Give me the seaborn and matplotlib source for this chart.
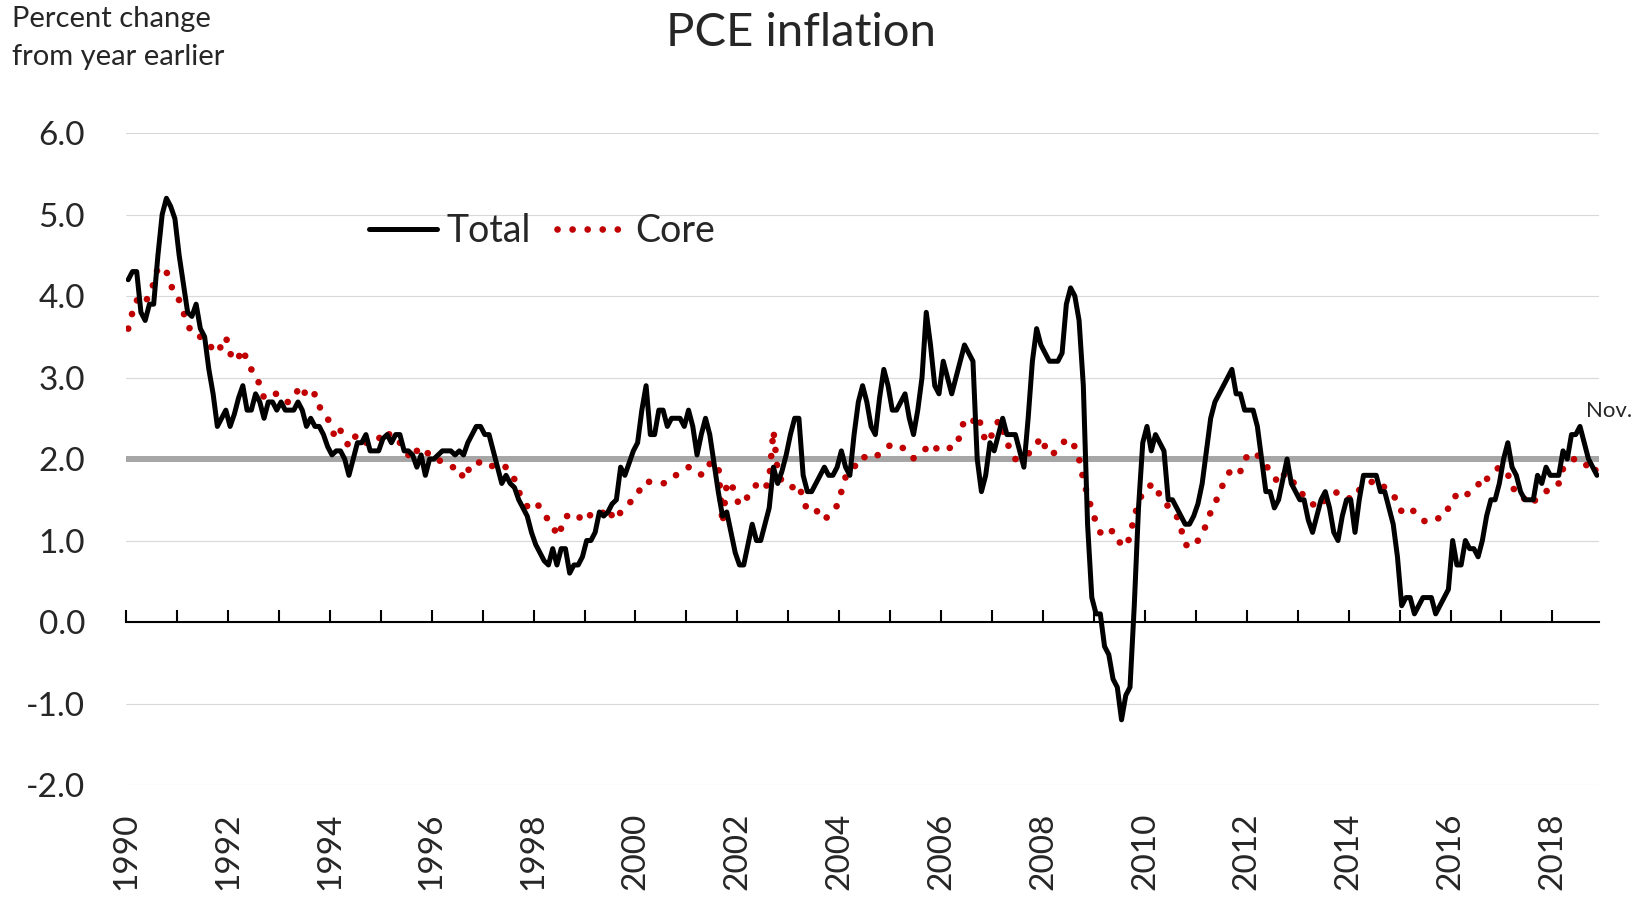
import numpy as np
import pandas as pd
import seaborn as sns
import matplotlib.pyplot as plt

# PCE inflation, percent change from year earlier, Jan 1990 - Nov 2018 (monthly)
total_pce = [
    4.2, 4.3, 4.3, 3.8, 3.7, 3.9, 3.9, 4.5, 5.0, 5.2, 5.1, 4.95,      # 1990
    4.5, 4.15, 3.8, 3.75, 3.9, 3.6, 3.5, 3.1, 2.8, 2.4, 2.5, 2.6,     # 1991
    2.4, 2.55, 2.75, 2.9, 2.6, 2.6, 2.8, 2.7, 2.5, 2.7, 2.7, 2.6,     # 1992
    2.7, 2.6, 2.6, 2.6, 2.7, 2.6, 2.4, 2.5, 2.4, 2.4, 2.3, 2.15,      # 1993
    2.05, 2.1, 2.1, 2.0, 1.8, 2.0, 2.2, 2.2, 2.3, 2.1, 2.1, 2.1,      # 1994
    2.25, 2.3, 2.2, 2.3, 2.3, 2.1, 2.1, 2.05, 1.9, 2.05, 1.8, 2.0,    # 1995
    2.0, 2.05, 2.1, 2.1, 2.1, 2.05, 2.1, 2.05, 2.2, 2.3, 2.4, 2.4,    # 1996
    2.3, 2.3, 2.1, 1.9, 1.7, 1.8, 1.7, 1.65, 1.5, 1.4, 1.3, 1.1,      # 1997
    0.95, 0.85, 0.75, 0.7, 0.9, 0.7, 0.9, 0.9, 0.6, 0.7, 0.7, 0.8,    # 1998
    1.0, 1.0, 1.1, 1.35, 1.3, 1.35, 1.45, 1.5, 1.9, 1.8, 1.95, 2.1,   # 1999
    2.2, 2.6, 2.9, 2.3, 2.3, 2.6, 2.6, 2.4, 2.5, 2.5, 2.5, 2.4,       # 2000
    2.6, 2.4, 2.05, 2.3, 2.5, 2.3, 1.95, 1.6, 1.3, 1.35, 1.1, 0.85,   # 2001
    0.7, 0.7, 0.95, 1.2, 1.0, 1.0, 1.2, 1.4, 1.9, 1.7, 1.85, 2.05,    # 2002
    2.3, 2.5, 2.5, 1.8, 1.6, 1.6, 1.7, 1.8, 1.9, 1.8, 1.8, 1.9,       # 2003
    2.1, 1.9, 1.8, 2.3, 2.7, 2.9, 2.7, 2.4, 2.3, 2.75, 3.1, 2.9,      # 2004
    2.6, 2.6, 2.7, 2.8, 2.5, 2.3, 2.6, 3.0, 3.8, 3.4, 2.9, 2.8,       # 2005
    3.2, 3.0, 2.8, 3.0, 3.2, 3.4, 3.3, 3.2, 2.0, 1.6, 1.8, 2.2,       # 2006
    2.1, 2.3, 2.5, 2.3, 2.3, 2.3, 2.1, 1.9, 2.5, 3.2, 3.6, 3.4,       # 2007
    3.3, 3.2, 3.2, 3.2, 3.3, 3.9, 4.1, 4.0, 3.7, 2.9, 1.2, 0.3,       # 2008
    0.1, 0.1, -0.3, -0.4, -0.7, -0.8, -1.2, -0.9, -0.8, 0.2, 1.4, 2.2,  # 2009
    2.4, 2.1, 2.3, 2.2, 2.1, 1.5, 1.5, 1.4, 1.3, 1.2, 1.2, 1.3,       # 2010
    1.45, 1.7, 2.1, 2.5, 2.7, 2.8, 2.9, 3.0, 3.1, 2.8, 2.8, 2.6,      # 2011
    2.6, 2.6, 2.4, 2.0, 1.6, 1.6, 1.4, 1.5, 1.75, 2.0, 1.7, 1.6,      # 2012
    1.5, 1.5, 1.25, 1.1, 1.3, 1.5, 1.6, 1.4, 1.1, 1.0, 1.3, 1.5,      # 2013
    1.5, 1.1, 1.5, 1.8, 1.8, 1.8, 1.8, 1.6, 1.6, 1.4, 1.2, 0.8,       # 2014
    0.2, 0.3, 0.3, 0.1, 0.2, 0.3, 0.3, 0.3, 0.1, 0.2, 0.3, 0.4,       # 2015
    1.0, 0.7, 0.7, 1.0, 0.9, 0.9, 0.8, 1.0, 1.3, 1.5, 1.5, 1.7,       # 2016
    2.0, 2.2, 1.9, 1.8, 1.6, 1.5, 1.5, 1.5, 1.8, 1.7, 1.9, 1.8,       # 2017
    1.8, 1.8, 2.1, 2.0, 2.3, 2.3, 2.4, 2.2, 2.0, 1.9, 1.8,            # 2018
]

core_pce = [
    3.6, 3.8, 3.95, 3.9, 3.9, 4.05, 4.15, 4.35, 4.35, 4.3, 4.15, 4.0,         # 1990
    3.95, 3.8, 3.65, 3.55, 3.5, 3.5, 3.45, 3.4, 3.35, 3.3, 3.4, 3.5,          # 1991
    3.3, 3.2, 3.25, 3.35, 3.2, 3.1, 3.05, 2.9, 2.75, 2.8, 2.8, 2.8,           # 1992
    2.75, 2.7, 2.7, 2.75, 2.85, 2.9, 2.75, 2.75, 2.8, 2.65, 2.55, 2.5,        # 1993
    2.35, 2.25, 2.35, 2.25, 2.15, 2.25, 2.3, 2.25, 2.2, 2.2, 2.25, 2.25,      # 1994
    2.3, 2.35, 2.25, 2.2, 2.2, 2.1, 2.05, 2.15, 2.1, 2.15, 2.1, 2.05,         # 1995
    2.0, 2.0, 1.95, 1.92, 1.9, 1.9, 1.9, 1.75, 1.85, 1.95, 1.97, 1.95,        # 1996
    1.9, 1.9, 1.92, 1.95, 1.92, 1.9, 1.85, 1.75, 1.6, 1.5, 1.42, 1.45,       # 1997
    1.48, 1.4, 1.32, 1.25, 1.2, 1.05, 1.15, 1.3, 1.3, 1.27, 1.25, 1.35,       # 1998
    1.35, 1.3, 1.28, 1.3, 1.35, 1.4, 1.3, 1.25, 1.35, 1.4, 1.46, 1.5,         # 1999
    1.55, 1.7, 1.72, 1.72, 1.7, 1.7, 1.7, 1.72, 1.78, 1.8, 1.84, 1.86,        # 2000
    1.9, 1.88, 1.82, 1.81, 1.82, 1.94, 1.94, 1.94, 1.2, 1.7, 1.72, 1.55,      # 2001
    1.43, 1.48, 1.54, 1.6, 1.69, 1.66, 1.63, 1.75, 2.35, 1.85, 1.72, 1.68,    # 2002
    1.65, 1.66, 1.69, 1.5, 1.37, 1.37, 1.38, 1.3, 1.25, 1.31, 1.36, 1.43,     # 2003
    1.6, 1.78, 1.85, 1.9, 1.97, 2.04, 2.0, 2.0, 2.02, 2.07, 2.1, 2.15,        # 2004
    2.19, 2.17, 2.15, 2.12, 2.08, 2.01, 2.05, 2.09, 2.13, 2.19, 2.15, 2.1,    # 2005
    2.1, 2.12, 2.15, 2.15, 2.3, 2.49, 2.48, 2.46, 2.54, 2.4, 2.2, 2.27,       # 2006
    2.32, 2.48, 2.35, 2.2, 2.1, 2.0, 2.0, 2.03, 2.06, 2.12, 2.18, 2.27,       # 2007
    2.15, 2.05, 2.07, 2.12, 2.18, 2.25, 2.22, 2.15, 2.0, 1.75, 1.55, 1.38,    # 2008
    1.22, 1.1, 1.05, 1.1, 1.12, 1.0, 0.96, 0.92, 1.05, 1.3, 1.45, 1.6,        # 2009
    1.65, 1.68, 1.69, 1.55, 1.47, 1.42, 1.35, 1.3, 1.15, 0.95, 0.93, 0.92,    # 2010
    1.0, 1.08, 1.2, 1.35, 1.45, 1.58, 1.7, 1.8, 1.89, 1.85, 1.85, 2.0,        # 2011
    2.05, 2.09, 2.05, 1.98, 1.92, 1.86, 1.78, 1.7, 1.8, 1.82, 1.79, 1.64,     # 2012
    1.6, 1.55, 1.52, 1.45, 1.4, 1.45, 1.5, 1.53, 1.57, 1.6, 1.58, 1.55,       # 2013
    1.5, 1.55, 1.62, 1.65, 1.7, 1.72, 1.74, 1.7, 1.65, 1.6, 1.55, 1.49,       # 2014
    1.35, 1.38, 1.4, 1.35, 1.3, 1.25, 1.22, 1.24, 1.26, 1.28, 1.29, 1.4,      # 2015
    1.45, 1.59, 1.58, 1.56, 1.58, 1.62, 1.68, 1.79, 1.75, 1.82, 1.86, 1.9,    # 2016
    1.88, 1.82, 1.64, 1.62, 1.6, 1.5, 1.44, 1.48, 1.51, 1.55, 1.6, 1.65,      # 2017
    1.7, 1.7, 1.88, 1.94, 1.98, 2.01, 2.0, 1.95, 1.9, 1.94, 1.82,             # 2018
]

year_labels = [str(y) for y in range(1990, 2019, 2)]
ytick_values = [-2, -1, 0, 1, 2, 3, 4, 5, 6]

# Monthly dates -> category positions (one slot per month, like the Excel category axis)
months = pd.date_range("1990-01-01", periods=len(total_pce), freq="MS")
df = pd.DataFrame({"date": months, "Total": total_pce, "Core": core_pce})
df["pos"] = np.arange(len(df)) + 0.5
n_months = len(df)

sns.set_theme(style="white")
plt.rcParams["font.family"] = ["Lato", "DejaVu Sans"]

fig = plt.figure(figsize=(16.46, 9.02), dpi=100)
ax = fig.add_axes([0.0766, 0.1297, 0.8949, 0.7228])

# 2 percent reference line
ax.axhline(2, color="#a6a6a6", linewidth=4.3, zorder=1.5)

sns.lineplot(data=df, x="pos", y="Total", ax=ax, color="black", linewidth=3.6,
             label="Total", zorder=3)
sns.lineplot(data=df, x="pos", y="Core", ax=ax, color="#c00000", linewidth=4.8,
             linestyle=(0, (0.01, 2.25)), dash_capstyle="round", label="Core", zorder=2.5)

ax.set_xlim(0, n_months)
ax.set_ylim(-2, 6)
ax.set_xlabel("")
ax.set_ylabel("")

# y axis
ax.set_yticks(ytick_values)
ax.set_yticklabels([f"{v:.1f}" for v in ytick_values])
ax.tick_params(axis="y", length=0, pad=29.5, labelsize=24)
ax.yaxis.grid(True, color="#d9d9d9", linewidth=0.8)
ax.xaxis.grid(False)
ax.set_axisbelow(True)

for side in ["left", "right", "top"]:
    ax.spines[side].set_visible(False)
ax.spines["bottom"].set_position(("data", 0))
ax.spines["bottom"].set_color("black")
ax.spines["bottom"].set_linewidth(1.5)
ax.set_xticks(np.arange(0, n_months, 12))
ax.tick_params(axis="x", bottom=True, direction="in", length=8.6, width=1.5,
               color="black", labelbottom=False)

# year labels at the bottom of the chart
sec = ax.secondary_xaxis("bottom")
sec.set_xticks(np.arange(0, n_months, 24), labels=year_labels)
sec.tick_params(length=0, pad=20, labelsize=24, labelrotation=90)
sec.spines["bottom"].set_visible(False)

ax.legend(loc="center left", bbox_to_anchor=(369 / 1646, 1 - 231 / 902),
          bbox_transform=fig.transFigure, ncol=2, frameon=False, fontsize=27,
          handlelength=1.8, handletextpad=0.27, columnspacing=0.7,
          borderpad=0, borderaxespad=0)

ax.text(343.8, 2.51, "Nov.", fontsize=16, ha="left", va="baseline", clip_on=False)

fig.text(0.4866, 0.949, "PCE inflation", fontsize=34, ha="center", va="baseline")
fig.text(12 / 1646, 1 - 27 / 902, "Percent change", fontsize=21, ha="left", va="baseline")
fig.text(12 / 1646, 1 - 65 / 902, "from year earlier", fontsize=21, ha="left", va="baseline")

fig.savefig("out.png", dpi=100)
